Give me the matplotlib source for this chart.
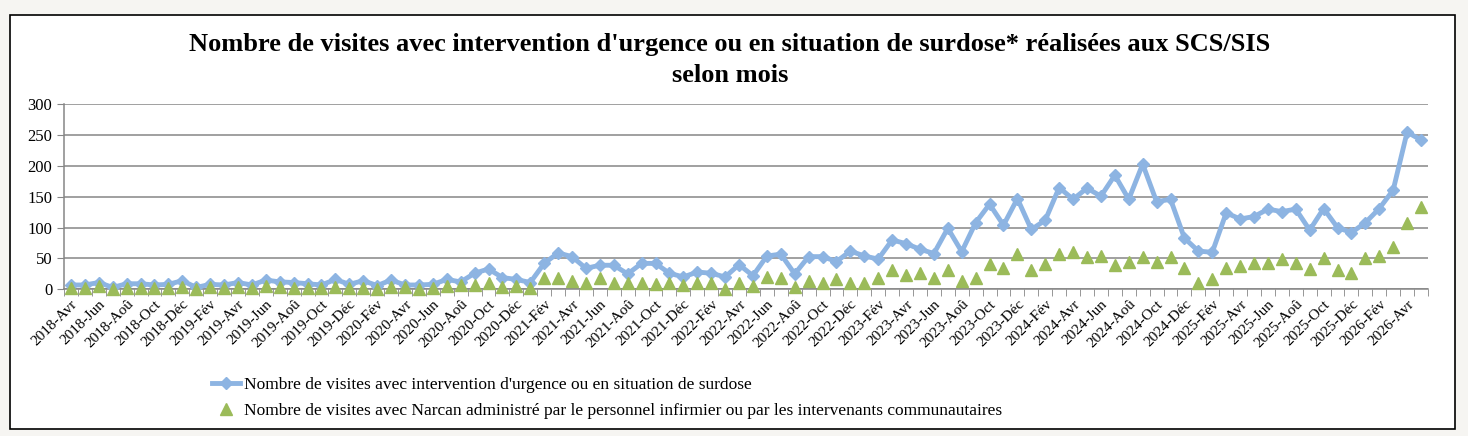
import matplotlib
matplotlib.use('Agg')
import matplotlib.pyplot as plt
from matplotlib.patches import Rectangle
from matplotlib.lines import Line2D

plt.rcParams['font.family'] = ['Liberation Serif', 'DejaVu Serif']

mois = ['Jan', 'Fév', 'Mar', 'Avr', 'Mai', 'Jun', 'Jul', 'Aoû', 'Sep', 'Oct', 'Nov', 'Déc']
categories = []
for annee in range(2018, 2027):
    for m in range(12):
        if (annee == 2018 and m < 3) or (annee == 2026 and m > 4):
            continue
        categories.append(f'{annee}-{mois[m]}')

visites = [7, 7, 11, 3, 9, 9, 7, 8, 14, 3, 8, 7,
           11, 7, 15, 12, 11, 9, 7, 16, 8, 14, 6, 15,
           7, 7, 8, 16, 12, 26, 33, 19, 16, 11, 42, 59,
           53, 34, 39, 39, 25, 42, 42, 26, 20, 28, 26, 20,
           40, 22, 54, 57, 25, 53, 53, 45, 62, 54, 49, 80,
           74, 65, 58, 99, 61, 108, 138, 104, 147, 97, 112, 165,
           146, 164, 151, 185, 146, 203, 142, 146, 83, 62, 60, 124,
           114, 118, 130, 126, 130, 96, 131, 100, 92, 108, 131, 161,
           255, 242]

narcan = [2, 2, 5, 0, 2, 2, 2, 2, 4, 1, 3, 2,
          4, 2, 5, 3, 2, 2, 2, 4, 2, 2, 0, 3,
          3, 0, 2, 5, 7, 7, 11, 4, 6, 2, 18, 19,
          14, 10, 18, 10, 10, 10, 9, 10, 7, 10, 11, 0,
          10, 5, 20, 18, 4, 14, 11, 16, 11, 11, 19, 32,
          23, 27, 19, 32, 13, 19, 41, 35, 57, 32, 41, 58,
          61, 53, 54, 39, 45, 53, 45, 53, 35, 11, 16, 35,
          37, 43, 42, 49, 43, 33, 51, 31, 27, 51, 54, 68,
          108, 134]

serie1 = "Nombre de visites avec intervention d'urgence ou en situation de surdose"
serie2 = "Nombre de visites avec Narcan administré par le personnel infirmier ou par les intervenants communautaires"
titre = "Nombre de visites avec intervention d'urgence ou en situation de surdose* réalisées aux SCS/SIS\nselon mois"

bleu = '#8db4e2'
vert = '#9bbb59'

W, H = 1468, 436
fig = plt.figure(figsize=(W / 100, H / 100), dpi=100, facecolor='#f6f5f2')
fig.patches.append(Rectangle((10 / W, 1 - 429 / H), 1445 / W, 414 / H, transform=fig.transFigure,
                             facecolor='white', edgecolor='black', linewidth=1.2, zorder=-10))

ax = fig.add_axes([64 / W, 1 - 289.3 / H, 1364 / W, 185 / H])
ax.set_facecolor('white')
x = list(range(len(categories)))
ax.plot(x, visites, '-D', color=bleu, linewidth=3.5, markersize=6.5, clip_on=False, zorder=3)
ax.plot(x, narcan, '^', color=vert, markersize=9, linestyle='none', clip_on=False, zorder=4)

ax.set_xlim(-0.5, len(categories) - 0.5)
ax.set_ylim(0, 300)
ax.set_yticks(range(0, 301, 50))
ax.yaxis.grid(True, color='#868686', linewidth=1.1)
ax.set_axisbelow(True)
for s in ['top', 'right']:
    ax.spines[s].set_visible(False)
ax.spines['left'].set_color('#868686')
ax.spines['bottom'].set_color('#868686')
ax.spines['left'].set_linewidth(1.1)
ax.spines['bottom'].set_linewidth(1.1)

ax.set_xticks(x[::2])
ax.set_xticklabels(categories[::2], rotation=45, ha='right', rotation_mode='anchor', fontsize=11)
ax.set_xticks([i - 0.5 for i in range(len(categories) + 1)], minor=True)
ax.tick_params(axis='x', which='major', length=0, pad=6)
ax.tick_params(axis='x', which='minor', length=5, color='#868686')
ax.tick_params(axis='y', length=5, color='#868686', labelsize=12)

fig.text(730 / W, 1 - 60 / H, titre, ha='center', va='center', fontsize=19, fontweight='bold',
         linespacing=1.4)

handles = [Line2D([], [], color=bleu, marker='D', linewidth=3.5, markersize=6.5),
           Line2D([], [], color=vert, marker='^', linestyle='none', markersize=9)]
fig.legend(handles, [serie1, serie2], loc='upper left', bbox_to_anchor=(205 / W, 1 - 370 / H),
           frameon=False, fontsize=12.5, handlelength=1.6, handletextpad=0.25, labelspacing=0.55,
           borderaxespad=0)

fig.savefig('out.png', dpi=100, facecolor=fig.get_facecolor())
